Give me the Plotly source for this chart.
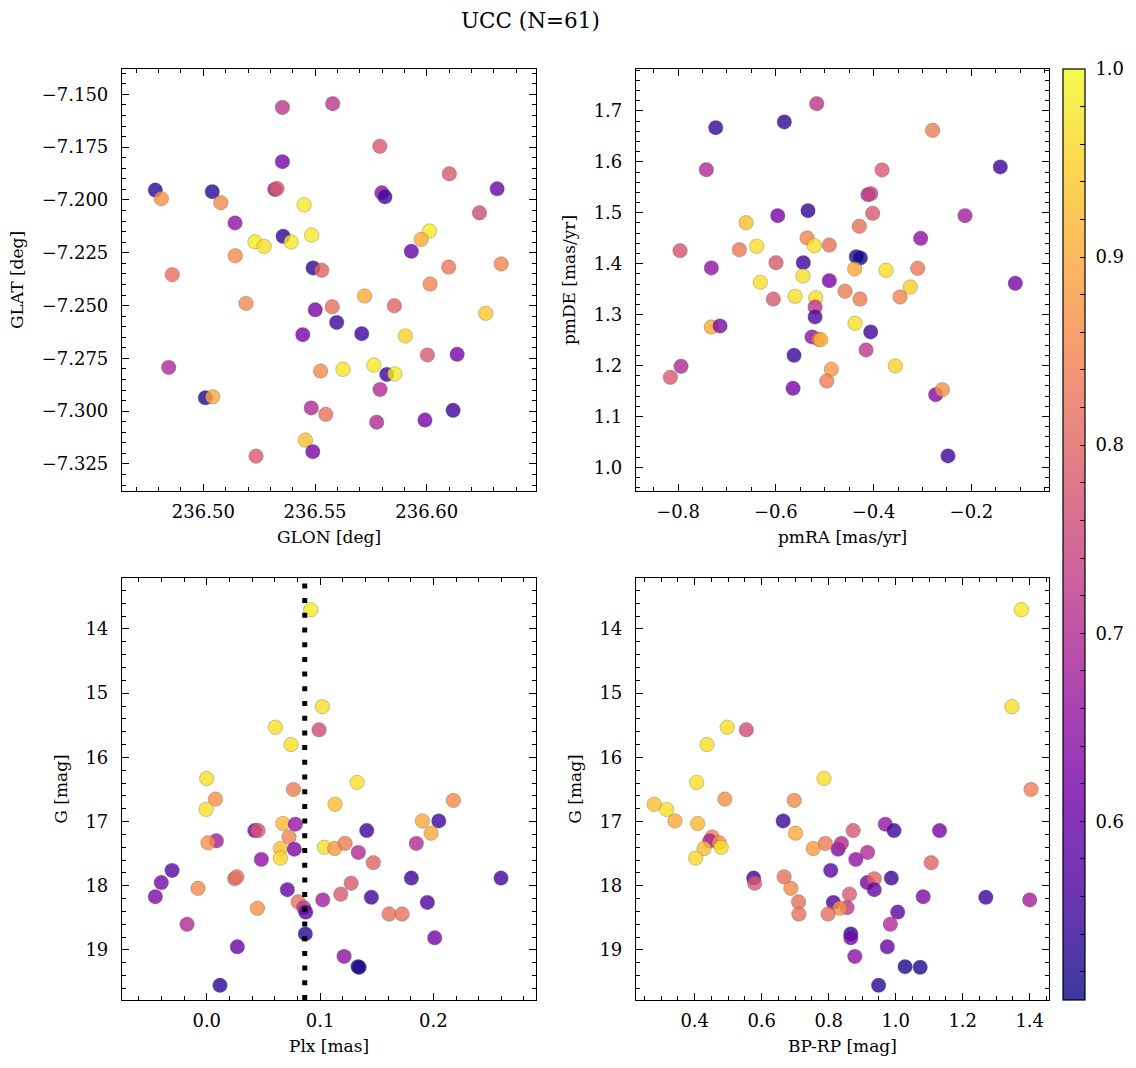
import plotly.graph_objects as go
import plotly.colors as pc

# ---------------- data ----------------
glon = [236.5354, 236.5579, 236.5790, 236.5354, 236.6101, 236.4785, 236.4812, 236.5040, 236.5078,
        236.5320, 236.5330, 236.5799, 236.5813, 236.6315, 236.5451, 236.5142, 236.6236, 236.5231,
        236.5272, 236.5357, 236.5393, 236.5485, 236.6012, 236.5975, 236.5931, 236.5143, 236.6098,
        236.6333, 236.5491, 236.5530, 236.4861, 236.6015, 236.5191, 236.5722, 236.5501, 236.5577,
        236.5855, 236.6264, 236.5597, 236.5445, 236.5709, 236.5904, 236.6003, 236.6136, 236.4845,
        236.5525, 236.5625, 236.5763, 236.5821, 236.5857, 236.5791, 236.5009, 236.5042, 236.5483,
        236.5548, 236.5776, 236.5992, 236.6118, 236.5457, 236.5490, 236.5236]
glat = [-7.1562, -7.1544, -7.1746, -7.1819, -7.1876, -7.1953, -7.1994, -7.1961, -7.2013,
        -7.1950, -7.1946, -7.1966, -7.1985, -7.1947, -7.2023, -7.2109, -7.2061, -7.2198,
        -7.2220, -7.2172, -7.2199, -7.2166, -7.2147, -7.2187, -7.2243, -7.2264, -7.2318,
        -7.2303, -7.2322, -7.2333, -7.2354, -7.2398, -7.2490, -7.2455, -7.2520, -7.2506,
        -7.2501, -7.2537, -7.2580, -7.2638, -7.2633, -7.2644, -7.2734, -7.2731, -7.2793,
        -7.2810, -7.2802, -7.2782, -7.2826, -7.2824, -7.2897, -7.2937, -7.2932, -7.2985,
        -7.3015, -7.3052, -7.3042, -7.2996, -7.3137, -7.3192, -7.3213]
prob_sky = [0.72, 0.72, 0.78, 0.62, 0.78, 0.53, 0.87, 0.53, 0.86,
            0.68, 0.78, 0.65, 0.55, 0.60, 0.98, 0.65, 0.76, 0.98,
            0.97, 0.53, 0.98, 0.98, 0.98, 0.90, 0.60, 0.86, 0.83,
            0.85, 0.53, 0.80, 0.82, 0.85, 0.86, 0.90, 0.62, 0.82,
            0.80, 0.94, 0.55, 0.62, 0.55, 0.95, 0.78, 0.62, 0.70,
            0.86, 0.98, 0.98, 0.55, 0.98, 0.70, 0.52, 0.90, 0.70,
            0.82, 0.70, 0.62, 0.55, 0.93, 0.62, 0.78]

pmra = [-0.5164, -0.7229, -0.5826, -0.2792, -0.7421, -0.3828, -0.1409, -0.4115, -0.4059,
        -0.5961, -0.5342, -0.4019, -0.2131, -0.6609, -0.4292, -0.5362, -0.5213, -0.4906,
        -0.3037, -0.7959, -0.6746, -0.6391, -0.5996, -0.5438, -0.4354, -0.4272, -0.7319,
        -0.4387, -0.3746, -0.3098, -0.1102, -0.6317, -0.5444, -0.4906, -0.3250, -0.6051,
        -0.5607, -0.5184, -0.4585, -0.4278, -0.3460, -0.5198, -0.5198, -0.7319, -0.7141,
        -0.4380, -0.4060, -0.5260, -0.5123, -0.5082, -0.4155, -0.5628, -0.3556, -0.4865,
        -0.7939, -0.8157, -0.4959, -0.5648, -0.2730, -0.2595, -0.2479]
pmde = [1.7143, 1.6672, 1.6784, 1.6620, 1.5847, 1.5841, 1.5900, 1.5356, 1.5375,
        1.4943, 1.5041, 1.4990, 1.4943, 1.4806, 1.4735, 1.4505, 1.4354, 1.4367,
        1.4499, 1.4256, 1.4275, 1.4342, 1.4020, 1.4020, 1.4138, 1.4112, 1.3916,
        1.3896, 1.3870, 1.3910, 1.3615, 1.3635, 1.3758, 1.3667, 1.3542, 1.3306,
        1.3360, 1.3333, 1.3458, 1.3306, 1.3346, 1.3149, 1.2953, 1.2756, 1.2776,
        1.2829, 1.2658, 1.2560, 1.2515, 1.2507, 1.2305, 1.2200, 1.1990, 1.1925,
        1.1984, 1.1768, 1.1695, 1.1552, 1.1426, 1.1525, 1.0222]
prob_pm = [0.72, 0.54, 0.54, 0.84, 0.70, 0.78, 0.55, 0.70, 0.74,
           0.62, 0.54, 0.78, 0.68, 0.93, 0.82, 0.85, 0.97, 0.82,
           0.65, 0.77, 0.83, 0.97, 0.78, 0.55, 0.53, 0.51, 0.65,
           0.90, 0.97, 0.83, 0.62, 0.97, 0.97, 0.62, 0.95, 0.78,
           0.97, 0.97, 0.84, 0.84, 0.85, 0.72, 0.57, 0.90, 0.63,
           0.97, 0.55, 0.65, 0.83, 0.92, 0.72, 0.55, 0.95, 0.88,
           0.70, 0.78, 0.84, 0.62, 0.63, 0.87, 0.55]

gmag = [13.70, 15.21, 15.53, 15.57, 15.80, 16.33, 16.39, 16.50, 16.65, 16.81,
        16.73, 16.67, 17.03, 17.04, 16.99, 16.99, 17.14, 17.14, 17.14, 17.24,
        17.18, 17.30, 17.33, 17.42, 17.57, 17.43, 17.40, 17.42, 17.34, 17.48,
        17.34, 17.64, 17.59, 17.76, 17.95, 18.17, 18.04, 17.89, 17.86, 17.88,
        17.88, 17.96, 18.13, 18.06, 18.22, 18.18, 18.26, 18.25, 18.34, 18.41,
        18.35, 18.44, 18.44, 18.60, 18.75, 18.81, 18.95, 19.10, 19.26, 19.27, 19.55]
plx = [0.0918, 0.1020, 0.0606, 0.0991, 0.0744, 0.0000, 0.1327, 0.0765, 0.0076, -0.0006,
       0.1132, 0.2177, 0.0671, 0.0782, 0.1903, 0.2048, 0.0424, 0.0453, 0.1412, 0.0726,
       0.1980, 0.0085, 0.0011, 0.0650, 0.0650, 0.0773, 0.1038, 0.1130, 0.1221, 0.1338,
       0.1850, 0.1470, 0.0482, -0.0306, -0.0401, -0.0454, -0.0077, 0.0247, 0.0265, 0.1806,
       0.2597, 0.1274, 0.1183, 0.0711, 0.1024, 0.1453, 0.1947, 0.0806, 0.0856, 0.0874,
       0.0447, 0.1609, 0.1724, -0.0174, 0.0870, 0.2012, 0.0270, 0.1212, 0.1335, 0.1345, 0.0117]
bp_rp = [1.375, 1.347, 0.497, 0.554, 0.437, 0.786, 0.406, 1.404, 0.490, 0.316,
         0.279, 0.697, 0.409, 0.969, 0.341, 0.664, 1.131, 0.873, 0.995, 0.452,
         0.701, 0.445, 0.473, 0.428, 0.403, 0.828, 0.479, 0.754, 0.790, 0.916,
         0.838, 1.106, 0.881, 0.806, 0.915, 1.082, 0.687, 0.936, 0.667, 0.576,
         0.987, 0.579, 0.862, 0.936, 1.400, 1.269, 0.814, 0.710, 0.855, 1.006,
         0.833, 0.711, 0.798, 0.984, 0.866, 0.866, 0.975, 0.878, 1.028, 1.073, 0.949]
prob_phot = [0.98, 0.97, 0.97, 0.76, 0.97, 0.97, 0.97, 0.84, 0.87, 0.97,
             0.93, 0.86, 0.92, 0.66, 0.90, 0.55, 0.62, 0.78, 0.55, 0.85,
             0.90, 0.68, 0.87, 0.93, 0.96, 0.63, 0.97, 0.88, 0.84, 0.70,
             0.70, 0.80, 0.65, 0.58, 0.62, 0.63, 0.86, 0.80, 0.82, 0.55,
             0.55, 0.78, 0.78, 0.60, 0.68, 0.55, 0.57, 0.82, 0.72, 0.58,
             0.87, 0.82, 0.82, 0.70, 0.53, 0.62, 0.60, 0.65, 0.52, 0.52, 0.53]

plx_ref = 0.0865
title_text = "UCC (N=61)"

# ---------------- style ----------------
FONT = "'DejaVu Serif', 'Liberation Serif', serif"
W, H = 1136, 1068
cmin, cmax = 0.505, 1.0

plasma = pc.sequential.Plasma
n = len(plasma)
cscale = []
for i, hx in enumerate(plasma):
    r, g, b = pc.hex_to_rgb(hx)
    cscale.append([i / (n - 1), f"rgba({r},{g},{b},0.8)"])


def px_x(p):
    return p / W


def px_y(p):
    return 1 - p / H


def tfont(size=18):
    return dict(family=FONT, size=size, color="black")


fig = go.Figure()

cb_vals = [round(0.52 + 0.02 * k, 2) for k in range(25)]
cb_text = [("\u00a0" + f"{v:.1f}" if round(v * 100) % 10 == 0 else "") for v in cb_vals]

panels = [
    (glon, glat, prob_sky, "x", "y"),
    (pmra, pmde, prob_pm, "x2", "y2"),
    (plx, gmag, prob_phot, "x3", "y3"),
    (bp_rp, gmag, prob_phot, "x4", "y4"),
]
for i, (xs, ys, cs, xa, ya) in enumerate(panels):
    marker = dict(size=14.5, color=cs, colorscale=cscale, cmin=cmin, cmax=cmax,
                  line=dict(width=0.6, color="rgba(90,90,90,0.55)"))
    if i == 0:
        marker["showscale"] = True
        marker["colorbar"] = dict(
            x=px_x(1063), xanchor="left", xpad=0, ypad=0,
            y=px_y(534.5), yanchor="middle", len=931 / H, lenmode="fraction",
            thickness=22, thicknessmode="pixels",
            outlinewidth=1.2, outlinecolor="black",
            tickvals=cb_vals, ticktext=cb_text,
            ticks="inside", ticklen=5, tickwidth=1, tickcolor="black",
            tickfont=tfont(18),
        )
    else:
        marker["showscale"] = False
    fig.add_trace(go.Scatter(x=xs, y=ys, mode="markers", marker=marker,
                             xaxis=xa, yaxis=ya, showlegend=False, hoverinfo="skip"))

fig.add_shape(type="line", xref="x3", yref="y3 domain", x0=plx_ref, x1=plx_ref, y0=0, y1=1,
              line=dict(color="black", width=5, dash="5px,9.7px"))


def ax(domain, rng, dtick, minor, fmt, title, anchor, is_y, reverse=False, tick0=0):
    d = dict(showline=True, linecolor="black", linewidth=1.2, mirror="ticks",
             ticks="inside", ticklen=7, tickwidth=1, tickcolor="black",
             showgrid=False, zeroline=False, tickfont=tfont(18),
             domain=domain, range=rng, dtick=dtick, tick0=tick0, tickformat=fmt, anchor=anchor,
             ticklabelstandoff=(9 if is_y else 4),
             minor=dict(ticks="inside", ticklen=4, dtick=minor, tick0=tick0, tickwidth=1,
                        tickcolor="black", showgrid=False),
             title=dict(text=title, font=tfont(17), standoff=(13 if is_y else 10)))
    if reverse:
        d["range"] = [rng[1], rng[0]]
    return d


dx1 = [px_x(122), px_x(536)]
dx2 = [px_x(636), px_x(1049)]
dyt = [px_y(491), px_y(69)]
dyb = [px_y(1000), px_y(578)]

fig.update_layout(
    width=W, height=H, margin=dict(l=0, r=0, t=0, b=0),
    paper_bgcolor="white", plot_bgcolor="white",
    font=tfont(18),
    xaxis=ax(dx1, [236.4636, 236.6489], 0.05, 0.01, ".2f", "GLON [deg]", "y", False, tick0=236.5),
    yaxis=ax(dyt, [-7.3378, -7.138], 0.025, 0.005, ".3f", "GLAT [deg]", "x", True, tick0=-7.15),
    xaxis2=ax(dx2, [-0.886, -0.0413], 0.2, 0.05, ".1f", "pmRA [mas/yr]", "y2", False),
    yaxis2=ax(dyt, [0.9534, 1.7825], 0.1, 0.02, ".1f", "pmDE [mas/yr]", "x2", True),
    xaxis3=ax(dx1, [-0.0748, 0.2906], 0.1, 0.02, ".1f", "Plx [mas]", "y3", False),
    yaxis3=ax(dyb, [13.206, 19.779], 1, 0.2, "d", "G [mag]", "x3", True, reverse=True),
    xaxis4=ax(dx2, [0.2248, 1.4576], 0.2, 0.05, ".1f", "BP-RP [mag]", "y4", False),
    yaxis4=ax(dyb, [13.206, 19.779], 1, 0.2, "d", "G [mag]", "x4", True, reverse=True),
    annotations=[dict(text=title_text, x=px_x(530), y=px_y(20), xref="paper", yref="paper",
                      xanchor="center", yanchor="middle", showarrow=False,
                      font=tfont(21.5))],
)

fig.write_html("out.html")
